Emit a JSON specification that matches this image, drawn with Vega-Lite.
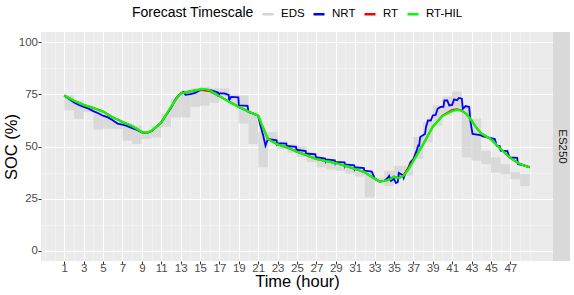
{
  "$schema": "https://vega.github.io/schema/vega-lite/v6.json",
  "background": "white",
  "padding": {"left": 3, "top": 7, "right": 0, "bottom": 0},
  "spacing": 0,
  "datasets": {
    "eds": [
      {"h":1,"h2":2,"lo":67.3,"hi":74.5,"s":"EDS"},{"h":2,"h2":3,"lo":63.3,"hi":72,"s":"EDS"},{"h":3,"h2":4,"lo":66.5,"hi":69.7,"s":"EDS"},
      {"h":4,"h2":5,"lo":58,"hi":67,"s":"EDS"},{"h":5,"h2":6,"lo":58.5,"hi":65,"s":"EDS"},{"h":6,"h2":7,"lo":58.5,"hi":62,"s":"EDS"},
      {"h":7,"h2":8,"lo":52.8,"hi":61,"s":"EDS"},{"h":8,"h2":9,"lo":51.2,"hi":60,"s":"EDS"},{"h":9,"h2":10,"lo":53.6,"hi":57.5,"s":"EDS"},
      {"h":10,"h2":11,"lo":54.4,"hi":60,"s":"EDS"},{"h":11,"h2":12,"lo":59.4,"hi":65.7,"s":"EDS"},{"h":12,"h2":13,"lo":64,"hi":73,"s":"EDS"},
      {"h":13,"h2":14,"lo":64,"hi":77,"s":"EDS"},{"h":14,"h2":15,"lo":69,"hi":78,"s":"EDS"},{"h":15,"h2":16,"lo":69.6,"hi":78.7,"s":"EDS"},
      {"h":16,"h2":17,"lo":71,"hi":78,"s":"EDS"},{"h":17,"h2":18,"lo":74,"hi":78,"s":"EDS"},{"h":18,"h2":19,"lo":69.6,"hi":75,"s":"EDS"},
      {"h":19,"h2":20,"lo":61,"hi":74.5,"s":"EDS"},{"h":20,"h2":21,"lo":51.2,"hi":66.6,"s":"EDS"},{"h":21,"h2":22,"lo":40,"hi":57,"s":"EDS"},
      {"h":22,"h2":23,"lo":52,"hi":57,"s":"EDS"},{"h":23,"h2":24,"lo":48.8,"hi":52.8,"s":"EDS"},{"h":24,"h2":25,"lo":47,"hi":51,"s":"EDS"},
      {"h":25,"h2":26,"lo":45,"hi":50,"s":"EDS"},{"h":26,"h2":27,"lo":42.5,"hi":47,"s":"EDS"},{"h":27,"h2":28,"lo":40,"hi":43.5,"s":"EDS"},
      {"h":28,"h2":29,"lo":39,"hi":42,"s":"EDS"},{"h":29,"h2":30,"lo":38.3,"hi":40.7,"s":"EDS"},{"h":30,"h2":31,"lo":37,"hi":39.5,"s":"EDS"},
      {"h":31,"h2":32,"lo":35.6,"hi":37.6,"s":"EDS"},{"h":32,"h2":33,"lo":25.5,"hi":37.5,"s":"EDS"},{"h":33,"h2":34,"lo":33,"hi":35,"s":"EDS"},
      {"h":34,"h2":35,"lo":31,"hi":38.3,"s":"EDS"},{"h":35,"h2":36,"lo":35.9,"hi":40.7,"s":"EDS"},{"h":36,"h2":37,"lo":36,"hi":40.7,"s":"EDS"},
      {"h":37,"h2":38,"lo":44,"hi":54.6,"s":"EDS"},{"h":38,"h2":39,"lo":52,"hi":61.8,"s":"EDS"},{"h":39,"h2":40,"lo":60,"hi":69.7,"s":"EDS"},
      {"h":40,"h2":41,"lo":65,"hi":74,"s":"EDS"},{"h":41,"h2":42,"lo":67.3,"hi":76.5,"s":"EDS"},{"h":42,"h2":43,"lo":44.8,"hi":69.7,"s":"EDS"},
      {"h":43,"h2":44,"lo":43.2,"hi":63.3,"s":"EDS"},{"h":44,"h2":45,"lo":41.5,"hi":48,"s":"EDS"},{"h":45,"h2":46,"lo":37.5,"hi":44.8,"s":"EDS"},
      {"h":46,"h2":47,"lo":36.7,"hi":41.5,"s":"EDS"},{"h":47,"h2":48,"lo":34.3,"hi":37.7,"s":"EDS"},{"h":48,"h2":49,"lo":31,"hi":36.7,"s":"EDS"}
    ],
    "lines": [
      {"t":1,"v":74.5,"s":"NRT"},{"t":1.5,"v":72.8,"s":"NRT"},{"t":2,"v":71.2,"s":"NRT"},{"t":2.5,"v":70,"s":"NRT"},{"t":3,"v":69,"s":"NRT"},
      {"t":3.5,"v":68.2,"s":"NRT"},{"t":4,"v":67,"s":"NRT"},{"t":4.5,"v":66,"s":"NRT"},{"t":5,"v":64.8,"s":"NRT"},{"t":5.5,"v":64,"s":"NRT"},
      {"t":6,"v":62.6,"s":"NRT"},{"t":6.5,"v":61,"s":"NRT"},{"t":7,"v":60.5,"s":"NRT"},{"t":7.5,"v":59.8,"s":"NRT"},{"t":8,"v":58.8,"s":"NRT"},
      {"t":8.5,"v":58,"s":"NRT"},{"t":9,"v":56.8,"s":"NRT"},{"t":9.5,"v":56.4,"s":"NRT"},{"t":10,"v":57.3,"s":"NRT"},{"t":10.5,"v":59.5,"s":"NRT"},
      {"t":11,"v":61.5,"s":"NRT"},{"t":11.5,"v":65,"s":"NRT"},{"t":12,"v":68.5,"s":"NRT"},{"t":12.5,"v":73,"s":"NRT"},{"t":13,"v":75.5,"s":"NRT"},
      {"t":13.3,"v":76.2,"s":"NRT"},{"t":13.5,"v":74.8,"s":"NRT"},{"t":14,"v":75.2,"s":"NRT"},{"t":14.5,"v":75.8,"s":"NRT"},{"t":15,"v":77,"s":"NRT"},
      {"t":15.5,"v":77.3,"s":"NRT"},{"t":16,"v":77.2,"s":"NRT"},{"t":16.5,"v":76.5,"s":"NRT"},{"t":16.85,"v":76,"s":"NRT"},{"t":16.9,"v":74,"s":"NRT"},
      {"t":17,"v":75.5,"s":"NRT"},{"t":17.5,"v":75.5,"s":"NRT"},{"t":17.95,"v":74.8,"s":"NRT"},{"t":18,"v":72.2,"s":"NRT"},{"t":18.2,"v":73.8,"s":"NRT"},
      {"t":18.95,"v":73.6,"s":"NRT"},{"t":19,"v":69.8,"s":"NRT"},{"t":19.9,"v":69.5,"s":"NRT"},{"t":20,"v":66.5,"s":"NRT"},{"t":20.5,"v":65.8,"s":"NRT"},
      {"t":21,"v":64.8,"s":"NRT"},{"t":21.2,"v":60.5,"s":"NRT"},{"t":21.5,"v":55.5,"s":"NRT"},{"t":21.75,"v":50.4,"s":"NRT"},{"t":22,"v":53.6,"s":"NRT"},
      {"t":22.9,"v":53,"s":"NRT"},{"t":22.95,"v":51.2,"s":"NRT"},{"t":23,"v":51.6,"s":"NRT"},{"t":23.9,"v":51.4,"s":"NRT"},{"t":23.95,"v":49.6,"s":"NRT"},
      {"t":24,"v":50.2,"s":"NRT"},{"t":24.9,"v":49.8,"s":"NRT"},{"t":24.95,"v":47.8,"s":"NRT"},{"t":25,"v":48.4,"s":"NRT"},{"t":25.9,"v":47.8,"s":"NRT"},
      {"t":25.95,"v":46,"s":"NRT"},{"t":26,"v":46.6,"s":"NRT"},{"t":26.9,"v":46.2,"s":"NRT"},{"t":26.95,"v":44.2,"s":"NRT"},{"t":27,"v":44.8,"s":"NRT"},
      {"t":27.9,"v":44.2,"s":"NRT"},{"t":27.95,"v":43.1,"s":"NRT"},{"t":28,"v":43.8,"s":"NRT"},{"t":28.9,"v":43.4,"s":"NRT"},{"t":28.95,"v":42.1,"s":"NRT"},
      {"t":29,"v":42.6,"s":"NRT"},{"t":29.9,"v":42.4,"s":"NRT"},{"t":29.95,"v":40.8,"s":"NRT"},{"t":30,"v":41.4,"s":"NRT"},{"t":30.9,"v":41,"s":"NRT"},
      {"t":30.95,"v":39.4,"s":"NRT"},{"t":31,"v":40,"s":"NRT"},{"t":31.9,"v":39.6,"s":"NRT"},{"t":31.95,"v":37.8,"s":"NRT"},{"t":32,"v":38.4,"s":"NRT"},
      {"t":32.7,"v":38,"s":"NRT"},{"t":33,"v":34.8,"s":"NRT"},{"t":33.5,"v":33.2,"s":"NRT"},{"t":34,"v":33.5,"s":"NRT"},{"t":34.4,"v":35.2,"s":"NRT"},
      {"t":34.5,"v":35.9,"s":"NRT"},{"t":34.7,"v":33.5,"s":"NRT"},{"t":35,"v":34.5,"s":"NRT"},{"t":35.2,"v":32.5,"s":"NRT"},{"t":35.4,"v":33,"s":"NRT"},
      {"t":35.5,"v":37.3,"s":"NRT"},{"t":35.9,"v":36.3,"s":"NRT"},{"t":36,"v":34.8,"s":"NRT"},{"t":36.2,"v":37.5,"s":"NRT"},{"t":36.5,"v":40,"s":"NRT"},
      {"t":36.7,"v":42.4,"s":"NRT"},{"t":37,"v":44,"s":"NRT"},{"t":37.3,"v":47.5,"s":"NRT"},{"t":37.5,"v":50.5,"s":"NRT"},{"t":37.6,"v":50.4,"s":"NRT"},
      {"t":37.7,"v":54.5,"s":"NRT"},{"t":37.9,"v":55.2,"s":"NRT"},{"t":38.2,"v":56,"s":"NRT"},{"t":38.3,"v":59.3,"s":"NRT"},{"t":38.5,"v":62.5,"s":"NRT"},
      {"t":38.8,"v":62.5,"s":"NRT"},{"t":39,"v":64.9,"s":"NRT"},{"t":39.3,"v":65.2,"s":"NRT"},{"t":39.5,"v":68.1,"s":"NRT"},{"t":39.8,"v":69,"s":"NRT"},
      {"t":40.1,"v":69,"s":"NRT"},{"t":40.2,"v":72.1,"s":"NRT"},{"t":40.5,"v":72.1,"s":"NRT"},{"t":40.7,"v":69.7,"s":"NRT"},{"t":41,"v":70,"s":"NRT"},
      {"t":41.2,"v":72.6,"s":"NRT"},{"t":41.5,"v":72.2,"s":"NRT"},{"t":41.7,"v":73.3,"s":"NRT"},{"t":42,"v":73,"s":"NRT"},{"t":42.1,"v":68.1,"s":"NRT"},
      {"t":42.4,"v":69.4,"s":"NRT"},{"t":42.75,"v":69,"s":"NRT"},{"t":42.9,"v":61.7,"s":"NRT"},{"t":43.1,"v":56,"s":"NRT"},{"t":43.9,"v":55.5,"s":"NRT"},
      {"t":44.1,"v":55,"s":"NRT"},{"t":45.4,"v":53.6,"s":"NRT"},{"t":45.6,"v":50.4,"s":"NRT"},{"t":45.9,"v":50.2,"s":"NRT"},{"t":46,"v":48,"s":"NRT"},
      {"t":46.7,"v":47.8,"s":"NRT"},{"t":46.9,"v":44.8,"s":"NRT"},{"t":47.7,"v":44.6,"s":"NRT"},{"t":47.8,"v":41.5,"s":"NRT"},{"t":48.2,"v":41.2,"s":"NRT"},
      {"t":49,"v":40,"s":"NRT"},

      {"t":1,"v":74.5,"s":"RT"},{"t":2,"v":72,"s":"RT"},{"t":3,"v":70,"s":"RT"},{"t":4,"v":68.5,"s":"RT"},{"t":5,"v":66.8,"s":"RT"},
      {"t":6,"v":64,"s":"RT"},{"t":7,"v":61.8,"s":"RT"},{"t":8,"v":59.8,"s":"RT"},{"t":9,"v":57,"s":"RT"},{"t":9.5,"v":56.6,"s":"RT"},
      {"t":10,"v":57.5,"s":"RT"},{"t":11,"v":61.5,"s":"RT"},{"t":12,"v":69,"s":"RT"},{"t":12.5,"v":72.5,"s":"RT"},{"t":13,"v":75.5,"s":"RT"},
      {"t":14,"v":76.5,"s":"RT"},{"t":15,"v":77.2,"s":"RT"},{"t":15.5,"v":76.9,"s":"RT"},{"t":16,"v":76.6,"s":"RT"},{"t":17,"v":74.2,"s":"RT"},
      {"t":18,"v":71.5,"s":"RT"},{"t":19,"v":69,"s":"RT"},{"t":20,"v":66.8,"s":"RT"},{"t":21,"v":64.8,"s":"RT"},{"t":21.5,"v":59,"s":"RT"},
      {"t":22,"v":53.6,"s":"RT"},{"t":23,"v":51,"s":"RT"},{"t":24,"v":49.5,"s":"RT"},{"t":25,"v":47.5,"s":"RT"},{"t":26,"v":45.8,"s":"RT"},
      {"t":27,"v":44,"s":"RT"},{"t":28,"v":43,"s":"RT"},{"t":29,"v":42,"s":"RT"},{"t":30,"v":40.7,"s":"RT"},{"t":31,"v":39.2,"s":"RT"},
      {"t":32,"v":37.6,"s":"RT"},{"t":33,"v":34.5,"s":"RT"},{"t":33.5,"v":33.2,"s":"RT"},{"t":34,"v":33.5,"s":"RT"},{"t":34.5,"v":34,"s":"RT"},
      {"t":35,"v":35.5,"s":"RT"},{"t":35.5,"v":34.8,"s":"RT"},{"t":36,"v":36.3,"s":"RT"},{"t":36.5,"v":39.8,"s":"RT"},{"t":37,"v":43.5,"s":"RT"},
      {"t":38,"v":51,"s":"RT"},{"t":39,"v":59.5,"s":"RT"},{"t":40,"v":64.8,"s":"RT"},{"t":41,"v":67.6,"s":"RT"},{"t":41.5,"v":67.9,"s":"RT"},
      {"t":42,"v":67.2,"s":"RT"},{"t":42.5,"v":65.5,"s":"RT"},{"t":43,"v":62.5,"s":"RT"},{"t":43.5,"v":59,"s":"RT"},{"t":44,"v":56.3,"s":"RT"},
      {"t":45,"v":53.5,"s":"RT"},{"t":46,"v":48.8,"s":"RT"},{"t":47,"v":44.5,"s":"RT"},{"t":47.5,"v":43,"s":"RT"},{"t":48,"v":41.6,"s":"RT"},
      {"t":49,"v":40,"s":"RT"},

      {"t":1,"v":74.5,"s":"RT-HIL"},{"t":2,"v":72,"s":"RT-HIL"},{"t":3,"v":70,"s":"RT-HIL"},{"t":4,"v":68.5,"s":"RT-HIL"},{"t":5,"v":66.8,"s":"RT-HIL"},
      {"t":6,"v":64,"s":"RT-HIL"},{"t":7,"v":61.8,"s":"RT-HIL"},{"t":8,"v":59.8,"s":"RT-HIL"},{"t":9,"v":57,"s":"RT-HIL"},{"t":9.5,"v":56.6,"s":"RT-HIL"},
      {"t":10,"v":57.5,"s":"RT-HIL"},{"t":11,"v":61.5,"s":"RT-HIL"},{"t":12,"v":69,"s":"RT-HIL"},{"t":12.5,"v":72.5,"s":"RT-HIL"},{"t":13,"v":75.5,"s":"RT-HIL"},
      {"t":14,"v":76.5,"s":"RT-HIL"},{"t":15,"v":77.4,"s":"RT-HIL"},{"t":15.5,"v":77.6,"s":"RT-HIL"},{"t":16,"v":77,"s":"RT-HIL"},{"t":17,"v":74.2,"s":"RT-HIL"},
      {"t":18,"v":71.5,"s":"RT-HIL"},{"t":19,"v":69,"s":"RT-HIL"},{"t":20,"v":66.8,"s":"RT-HIL"},{"t":21,"v":64.8,"s":"RT-HIL"},{"t":21.5,"v":59,"s":"RT-HIL"},
      {"t":22,"v":53.6,"s":"RT-HIL"},{"t":23,"v":51,"s":"RT-HIL"},{"t":24,"v":49.5,"s":"RT-HIL"},{"t":25,"v":47.5,"s":"RT-HIL"},{"t":26,"v":45.8,"s":"RT-HIL"},
      {"t":27,"v":44,"s":"RT-HIL"},{"t":28,"v":43,"s":"RT-HIL"},{"t":29,"v":42,"s":"RT-HIL"},{"t":30,"v":40.7,"s":"RT-HIL"},{"t":31,"v":39.2,"s":"RT-HIL"},
      {"t":32,"v":37.6,"s":"RT-HIL"},{"t":33,"v":34.5,"s":"RT-HIL"},{"t":33.5,"v":33.2,"s":"RT-HIL"},{"t":34,"v":33.5,"s":"RT-HIL"},{"t":34.5,"v":34,"s":"RT-HIL"},
      {"t":35,"v":35.5,"s":"RT-HIL"},{"t":35.5,"v":34.8,"s":"RT-HIL"},{"t":36,"v":36,"s":"RT-HIL"},{"t":36.5,"v":39,"s":"RT-HIL"},{"t":37,"v":43,"s":"RT-HIL"},
      {"t":38,"v":51,"s":"RT-HIL"},{"t":39,"v":59.5,"s":"RT-HIL"},{"t":40,"v":64.6,"s":"RT-HIL"},{"t":41,"v":67,"s":"RT-HIL"},{"t":41.5,"v":67.6,"s":"RT-HIL"},
      {"t":42,"v":67.2,"s":"RT-HIL"},{"t":42.5,"v":65.5,"s":"RT-HIL"},{"t":43,"v":62.5,"s":"RT-HIL"},{"t":43.5,"v":59,"s":"RT-HIL"},{"t":44,"v":56.3,"s":"RT-HIL"},
      {"t":45,"v":53.5,"s":"RT-HIL"},{"t":46,"v":48.8,"s":"RT-HIL"},{"t":47,"v":44.5,"s":"RT-HIL"},{"t":47.5,"v":43,"s":"RT-HIL"},{"t":48,"v":41.6,"s":"RT-HIL"},
      {"t":49,"v":40,"s":"RT-HIL"}
    ],
    "strip": [{"panel": "ES250"}]
  },
  "hconcat": [
    {
      "width": 512,
      "height": 229,
      "view": {"fill": "#ebebeb", "stroke": null},
      "resolve": {"axis": {"x": "independent", "y": "independent"}},
      "layer": [
        {
          "data": {"name": "eds"},
          "mark": {"type": "rect", "opacity": 0.8},
          "encoding": {
            "x": {"field": "h", "type": "quantitative",
              "scale": {"domain": [-1.4, 51.4], "nice": false, "zero": false},
              "axis": {
                "orient": "bottom",
                "title": "Time (hour)",
                "grid": true,
                "gridColor": "#ffffff",
                "gridWidth": 1.1,
                "values": [1,3,5,7,9,11,13,15,17,19,21,23,25,27,29,31,33,35,37,39,41,43,45,47],
                "labelOverlap": false,
                "labelFlush": false,
                "labelPadding": -2,
                "titlePadding": 0
              }
            },
            "x2": {"field": "h2"},
            "y": {"field": "lo", "type": "quantitative",
              "scale": {"domain": [-5, 105], "nice": false, "zero": false},
              "axis": {
                "orient": "left",
                "title": "SOC (%)",
                "grid": true,
                "gridColor": "#ffffff",
                "gridWidth": 1.1,
                "values": [0,25,50,75,100],
                "labelOverlap": false,
                "labelFlush": false,
                "labelPadding": 0.5,
                "titlePadding": -1.5
              }
            },
            "y2": {"field": "hi"},
            "color": {"field": "s", "type": "nominal",
              "scale": {"domain": ["EDS", "NRT", "RT", "RT-HIL"], "range": ["#d4d4d4", "#0000ff", "#ff0000", "#00ff00"]},
              "legend": {
                "title": "Forecast Timescale",
                "orient": "none",
                "legendX": 91,
                "legendY": -25,
                "direction": "horizontal",
                "titleOrient": "left",
                "titlePadding": 7,
                "columnPadding": 3,
                "labelOffset": 6,
                "symbolSize": 121,
                "symbolType": "stroke",
                "symbolStrokeWidth": 2.5,
                "symbolOpacity": 1
              }
            }
          }
        },
        {
          "data": {"name": "lines"},
          "transform": [{"filter": "datum.s === 'NRT'"}],
          "mark": {"type": "line", "strokeWidth": 1.8},
          "encoding": {
            "x": {"field": "t", "type": "quantitative",
              "axis": {
                "orient": "bottom",
                "title": null,
                "labels": false,
                "ticks": false,
                "domain": false,
                "grid": true,
                "gridColor": "#ffffff",
                "gridOpacity": 0.55,
                "gridWidth": 0.6,
                "values": [-1,0,2,4,6,8,10,12,14,16,18,20,22,24,26,28,30,32,34,36,38,40,42,44,46,48,49]
              }
            },
            "y": {"field": "v", "type": "quantitative",
              "axis": {
                "orient": "left",
                "title": null,
                "labels": false,
                "ticks": false,
                "domain": false,
                "grid": true,
                "gridColor": "#ffffff",
                "gridOpacity": 0.55,
                "gridWidth": 0.6,
                "values": [12.5,37.5,62.5,87.5]
              }
            },
            "color": {"field": "s", "type": "nominal"}
          }
        },
        {
          "data": {"name": "lines"},
          "transform": [{"filter": "datum.s === 'RT'"}],
          "mark": {"type": "line", "strokeWidth": 2},
          "encoding": {
            "x": {"field": "t", "type": "quantitative", "axis": null},
            "y": {"field": "v", "type": "quantitative", "axis": null},
            "color": {"field": "s", "type": "nominal"}
          }
        },
        {
          "data": {"name": "lines"},
          "transform": [{"filter": "datum.s === 'RT-HIL'"}],
          "mark": {"type": "line", "strokeWidth": 2.2},
          "encoding": {
            "x": {"field": "t", "type": "quantitative", "axis": null},
            "y": {"field": "v", "type": "quantitative", "axis": null},
            "color": {"field": "s", "type": "nominal"}
          }
        }
      ]
    },
    {
      "width": 17,
      "height": 229,
      "view": {"fill": "#d9d9d9", "stroke": null},
      "data": {"name": "strip"},
      "mark": {"type": "text", "angle": 90, "fontSize": 11.5, "color": "#1a1a1a", "font": "Liberation Sans", "align": "center", "baseline": "middle"},
      "encoding": {"text": {"field": "panel"}}
    }
  ],
  "config": {
    "font": "Liberation Sans",
    "axis": {
      "domain": false,
      "tickColor": "#333333",
      "tickSize": 3,
      "tickWidth": 1,
      "labelColor": "#4d4d4d",
      "labelFontSize": 11.5,
      "labelFont": "Liberation Sans",
      "titleFont": "Liberation Sans",
      "titleFontSize": 16.5,
      "titleFontWeight": "normal",
      "titleColor": "#000000"
    },
    "legend": {
      "titleFont": "Liberation Sans",
      "titleFontSize": 14,
      "titleFontWeight": "normal",
      "titleColor": "#000000",
      "labelFont": "Liberation Sans",
      "labelFontSize": 11.5,
      "labelColor": "#000000"
    }
  }
}
